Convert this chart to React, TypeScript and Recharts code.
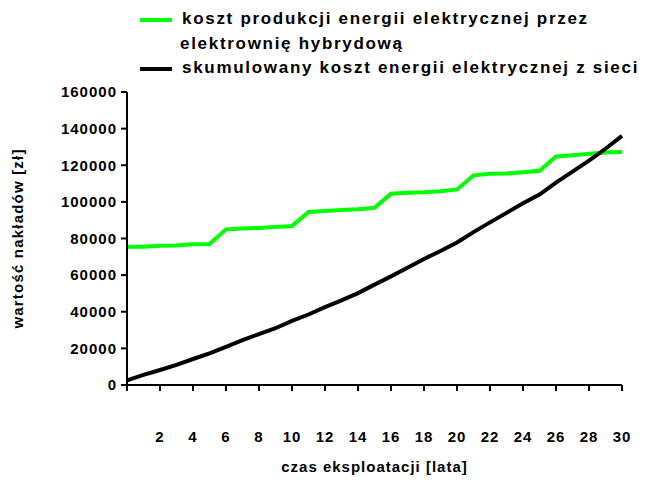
import React from 'react';
import { LineChart, Line, XAxis, YAxis, Legend, Label } from 'recharts';

// lata eksploatacji
const years = [0, 1, 2, 3, 4, 5, 6, 7, 8, 9, 10, 11, 12, 13, 14, 15, 16, 17, 18, 19, 20, 21, 22, 23, 24, 25, 26, 27, 28, 29, 30];

// koszt produkcji energii przez elektrownię hybrydową [zł]
const hybridCost = [
  75500, 75500, 76000, 76200, 76800, 77000,
  85000, 85500, 85800, 86300, 86800,
  94500, 95000, 95600, 96000, 96800,
  104500, 105000, 105200, 105800, 106800,
  114500, 115300, 115500, 116200, 117000,
  124800, 125500, 126300, 127000, 127300,
];

// skumulowany koszt energii z sieci [zł]
const gridCost = [
  2500, 5500, 8200, 11000, 14200, 17300, 20800, 24500, 27800, 31000,
  35000, 38500, 42500, 46200, 50200, 54800, 59300, 64000, 68800, 73200,
  77800, 83500, 88800, 94000, 99200, 104000, 110500, 116500, 122500, 129000, 136000,
];

const xTicks = [0, 2, 4, 6, 8, 10, 12, 14, 16, 18, 20, 22, 24, 26, 28, 30];
const yTicks = [0, 20000, 40000, 60000, 80000, 100000, 120000, 140000, 160000];

const hybridLabel = ['koszt produkcji energii elektrycznej przez', 'elektrownię hybrydową'];
const gridLabel = 'skumulowany koszt energii elektrycznej z sieci';

const data = years.map((y, i) => ({ year: y, hybrid: hybridCost[i], grid: gridCost[i] }));

const FONT = '"Liberation Sans", Arial, sans-serif';
const GREEN = '#00ff00';

const tickStyle = { fontSize: 15, fontWeight: 700, fill: '#000', fontFamily: FONT, letterSpacing: 1 };

function LegendBox() {
  const swatch = (color: string) => (
    <span style={{ display: 'inline-block', width: 32, height: 4, background: color, marginRight: 10, verticalAlign: 'middle' }} />
  );
  const text = { fontSize: 17, fontWeight: 700, letterSpacing: 1.7, fontFamily: FONT, color: '#000' };
  return (
    <div style={{ lineHeight: '24.5px', whiteSpace: 'nowrap' }}>
      <div style={text}>{swatch(GREEN)}{hybridLabel[0]}</div>
      <div style={{ ...text, paddingLeft: 40 }}>{hybridLabel[1]}</div>
      <div style={text}>{swatch('#000')}{gridLabel}</div>
    </div>
  );
}

export default function App() {
  return (
    <div style={{ position: 'absolute', left: 0, top: 0, width: 653, height: 484, background: '#fff' }}>
      <LineChart width={653} height={484} data={data} margin={{ top: 92, right: 31, bottom: 0, left: 0 }}>
        <XAxis
          dataKey="year"
          type="number"
          domain={[0, 30]}
          ticks={xTicks}
          tickFormatter={(v: number) => (v === 0 ? '' : String(v))}
          height={99}
          stroke="#000"
          strokeWidth={2}
          tickSize={6}
          tickMargin={40}
          tick={tickStyle}
        >
          <Label
            value="czas eksploatacji [lata]"
            position="insideBottom"
            offset={12}
            style={{ fontSize: 15, fontWeight: 700, fill: '#000', fontFamily: FONT, letterSpacing: 1 }}
          />
        </XAxis>
        <YAxis
          type="number"
          domain={[0, 160000]}
          ticks={yTicks}
          width={127}
          stroke="#000"
          strokeWidth={2}
          tickSize={6}
          tickMargin={4}
          tick={tickStyle}
        >
          <Label
            value="wartość nakładów [zł]"
            position="insideLeft"
            angle={-90}
            offset={18}
            style={{ fontSize: 15, fontWeight: 700, fill: '#000', fontFamily: FONT, letterSpacing: 1.2, textAnchor: 'middle' }}
          />
        </YAxis>
        <Legend
          layout="horizontal"
          verticalAlign="middle"
          align="center"
          content={() => <LegendBox />}
          wrapperStyle={{ top: 7, left: 140, width: 'auto' }}
        />
        <Line type="linear" dataKey="hybrid" stroke={GREEN} strokeWidth={4} dot={false} isAnimationActive={false} />
        <Line type="linear" dataKey="grid" stroke="#000" strokeWidth={4} dot={false} isAnimationActive={false} />
      </LineChart>
    </div>
  );
}
